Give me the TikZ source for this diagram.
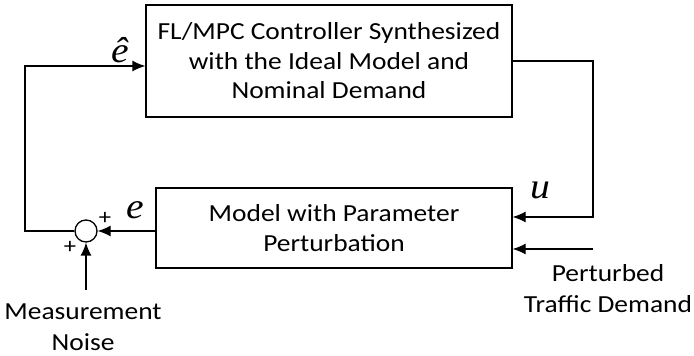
\documentclass[tikz,border=0pt]{standalone}
\usepackage{fontspec}
\setmainfont{Carlito}[FakeStretch=1.12]
\newfontfamily\timesfont{Liberation Serif}[FakeStretch=1.1]
\usetikzlibrary{arrows.meta}
\usetikzlibrary{positioning}

\tikzset{
  block/.style={draw, line width=1.3pt, align=center, font=\fontsize{24.5}{29.5}\selectfont},
  sumnode/.style={draw, circle, line width=1.3pt, minimum size=22pt, inner sep=0pt},
  signal/.style={font=\timesfont\itshape\fontsize{36}{36}\selectfont, inner sep=0pt},
  plus/.style={font=\fontsize{22}{22}\selectfont, inner sep=0pt},
  caption/.style={align=center, font=\fontsize{24.5}{31}\selectfont}
}

\begin{document}
\begin{tikzpicture}[x=1pt, y=1pt, line width=1.3pt, >={Latex[length=13pt,width=11pt]}]
    \useasboundingbox (0,0) rectangle (694,356);

    % two blocks
    \node[block, minimum width=366pt, minimum height=112pt] (ctrl) at (329,295)
        {FL/MPC Controller Synthesized\\with the Ideal Model and\\Nominal Demand};
    \node[block, minimum width=356pt, minimum height=80pt] (plant) at (334,128)
        {Model with Parameter\\Perturbation};

    % summing point and inputs
    \node[sumnode] (sum) at (86,125) {};
    \node[caption] (noise) at (83,29) {Measurement\\Noise};
    \node[caption] (demand) at (608,67) {Perturbed\\Traffic Demand};

    % signal labels
    \node[signal] (ehat) at (120,306) {\^{e}};
    \node[signal] (e) at (135,146) {e};
    \node[signal] (u) at (540,166) {u};
    \node[plus] (p1) at (105,138) {+};
    \node[plus] (p2) at (70,109) {+};

    % loose ends
    \coordinate (cr) at (593,295);
    \coordinate (dist) at (593,107);
    \coordinate (fb) at (25,125);
    \coordinate (noisein) at (86,66);

    \draw[->] (ctrl.east) -- (cr) |- ([yshift=11pt]plant.east);
    \draw[->] (dist) -- (plant.east |- dist);
    \draw[->] (plant.west |- sum) -- (sum);
    \draw[->] (sum.west) -- (fb) |- ([yshift=-5pt]ctrl.west);
    \draw[->] (noisein) -- (sum.south);
\end{tikzpicture}
\end{document}
